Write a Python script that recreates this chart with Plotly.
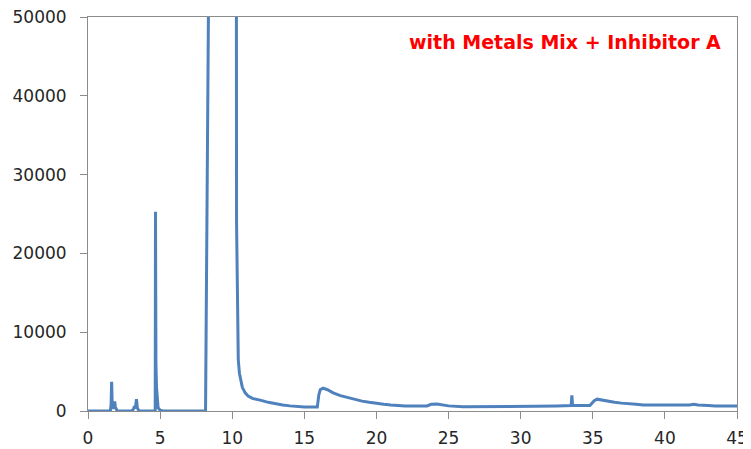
import plotly.graph_objects as go

# Retention time (min) and signal
time_min = [0, 1.55, 1.6, 1.64, 1.68, 1.75, 1.85, 1.9, 2.0, 2.1, 3.0, 3.15, 3.22, 3.28, 3.36,
            3.42, 3.5, 3.6, 4.66, 4.68, 4.69, 4.71, 4.75, 4.8, 4.86, 5.0, 5.2,
            8.15, 8.18, 8.25, 8.33, 8.35, 9.3, 10.29, 10.3, 10.34, 10.38, 10.42, 10.5,
            10.6, 10.7, 10.9, 11.1, 11.4, 11.7, 12.0, 12.5, 13.0, 13.5, 14.0, 14.5, 15.0,
            15.9, 16.0, 16.1, 16.3, 16.6, 17.0, 17.5, 18.0, 18.5, 19.0, 19.5, 20.0, 20.5,
            21.0, 21.5, 22.0, 23.5, 23.8, 24.2, 24.6, 25.0, 26.0, 30.0, 31.0, 32.5, 33.5,
            33.55, 33.6, 34.8, 35.1, 35.3, 35.6, 36.0, 36.5, 37.0, 37.5, 38.0, 38.5, 40.0,
            41.7, 42.0, 42.3, 43.0, 43.5, 45.0]
signal = [0, 0, 800, 3700, 600, 300, 1200, 500, 100, 0, 0, 200, 600, 300, 1500,
          400, 100, 0, 0, 25300, 11000, 6000, 3000, 1200, 400, 100, 0,
          0, 9400, 27000, 41000, 50500, 400000, 50500, 24000, 14000, 9000, 6500, 4800,
          3800, 3000, 2300, 1900, 1600, 1500, 1350, 1100, 900, 750, 650, 550, 520,
          500, 2000, 2700, 2900, 2700, 2300, 1950, 1700, 1450, 1250, 1100, 950, 850,
          750, 700, 650, 650, 850, 900, 750, 650, 550, 550, 600, 650, 700,
          2000, 700, 700, 1300, 1500, 1400, 1200, 1100, 1000, 950, 850, 750, 750,
          750, 850, 750, 700, 650, 650]

x_ticks = [0, 5, 10, 15, 20, 25, 30, 35, 40, 45]
y_ticks = [0, 10000, 20000, 30000, 40000, 50000]
y_tick_labels = ["0", "10000", "20000", "30000", "40000", "50000"]
label_text = "with Metals Mix + Inhibitor A"

fig = go.Figure()
fig.add_trace(go.Scatter(x=time_min, y=signal, mode="lines",
                         line=dict(color="#4F81BD", width=3), showlegend=False))

axis_common = dict(showgrid=False, zeroline=False, showline=True, linecolor="#8c8c8c",
                   linewidth=1, mirror=True, ticks="outside", tickcolor="#8c8c8c",
                   ticklen=7, automargin=False, ticklabeloverflow="allow",
                   tickfont=dict(family="DejaVu Sans", size=17, color="#262626"))

fig.update_xaxes(range=[0, 45], tickvals=x_ticks, ticklabelstandoff=5, **axis_common)
fig.update_yaxes(range=[0, 50000], tickvals=y_ticks, ticktext=y_tick_labels,
                 ticklabelstandoff=10, **axis_common)

fig.add_annotation(text=label_text, xref="paper", yref="paper", x=0.978, y=0.9365,
                   xanchor="right", yanchor="middle", showarrow=False,
                   font=dict(family="DejaVu Sans", size=19, color="#ff0000", weight="bold"))

# page body has an 8px margin, so the figure is sized to sit in the 751x449 window
fig.update_layout(width=743, height=441, margin=dict(l=80, r=14, t=9, b=38),
                  plot_bgcolor="white", paper_bgcolor="white")

fig.write_html("out.html")
